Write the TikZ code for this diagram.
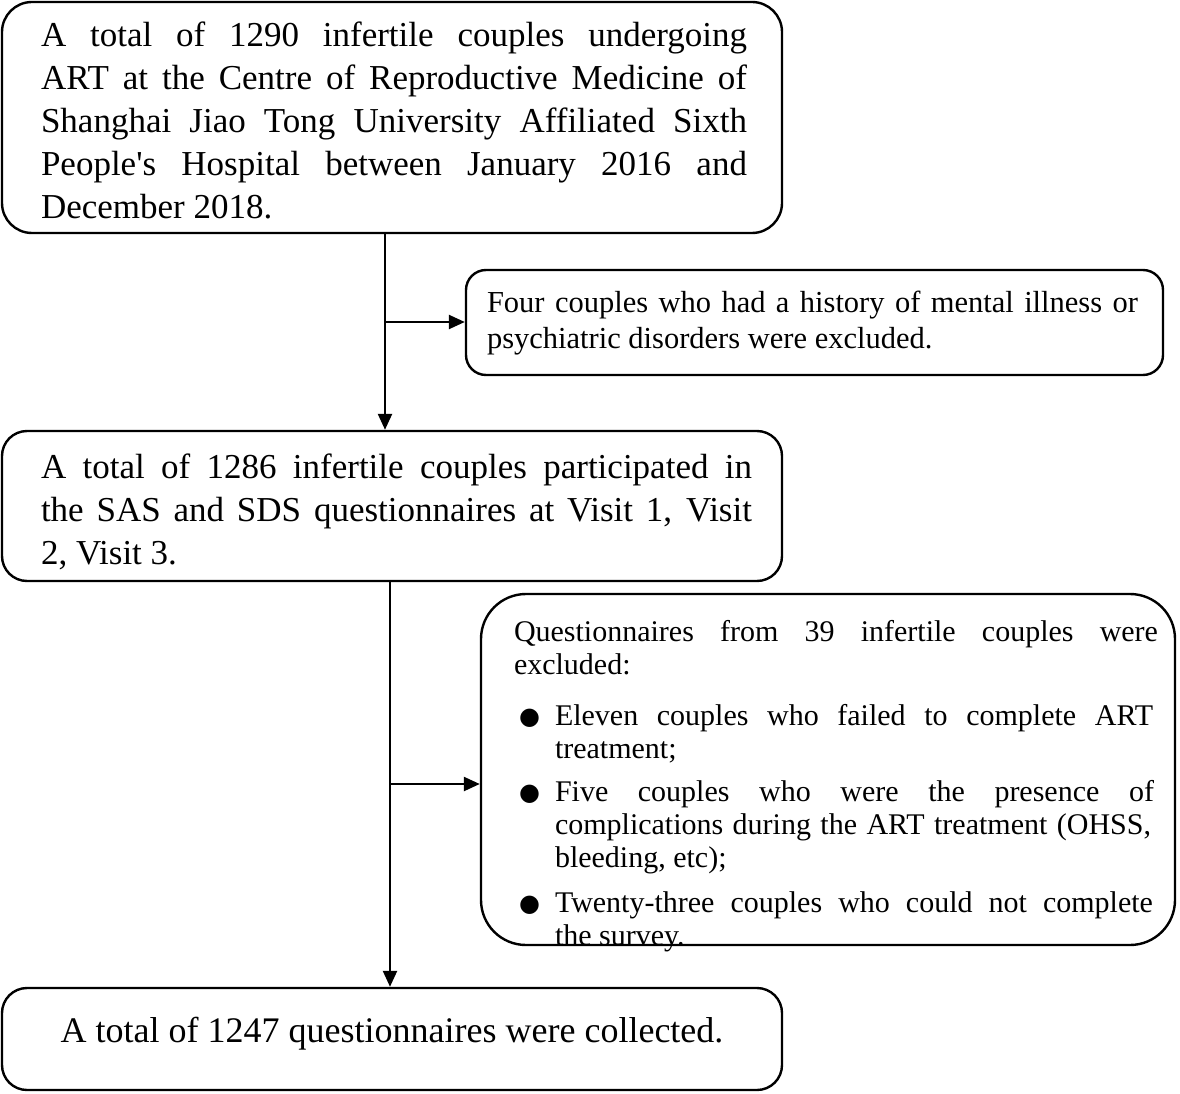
\documentclass[tikz,border=0pt]{standalone}
\usepackage{fontspec}
\setmainfont{Liberation Serif}[Ligatures=TeXOff]
\newfontfamily\dvs{DejaVu Sans}
\usetikzlibrary{arrows.meta}
\setlength\parindent{0pt}
% stretched (justified) box of given width
\newcommand\strbox[2]{\makebox[#1][s]{\spaceskip=0.25em plus 1fil\relax #2}}
% justified line: offset, width, text
\newcommand\jl[3]{\hspace*{#1}\strbox{#2}{#3}\par}
% plain last line
\newcommand\pl[2]{\hspace*{#1}#2\par}
% bullet (box 4)
\newcommand\bul{\hspace*{38pt}\makebox[36pt][l]{\raisebox{1pt}{\dvs\fontsize{24}{24}\selectfont ●}}}
% content block, shifted down by #1, width #2
\newcommand\blk[3]{\raisebox{-#1}[\height][\depth]{\parbox[t]{#2}{#3}}}
\begin{document}
\begin{tikzpicture}[x=1pt,y=-1pt,
  box/.style={draw, line width=2.4pt, inner sep=0pt},
  big/.style={font=\fontsize{35}{43}\selectfont},
  conn/.style={line width=2.4pt, -{Triangle[length=16pt,width=14pt]}}]
\useasboundingbox (0,0) rectangle (1180,1094);

\node[box, big, rounded corners=30pt, minimum width=780pt, minimum height=231pt] (b1) at (392,117.5) {\blk{3pt}{780pt}{%
\jl{39pt}{706pt}{A total of 1290 infertile couples undergoing}
\jl{39pt}{706pt}{ART at the Centre of Reproductive Medicine of}
\jl{39pt}{706pt}{Shanghai Jiao Tong University Affiliated Sixth}
\jl{39pt}{706pt}{People's Hospital between January 2016 and}
\pl{39pt}{December 2018.}}};

\node[box, font=\fontsize{30.5}{36}\selectfont, rounded corners=20pt, minimum width=697pt, minimum height=105pt] (b2) at (814.5,322.5) {\blk{1pt}{697pt}{%
\jl{21pt}{651pt}{Four couples who had a history of mental illness or}
\pl{21pt}{psychiatric disorders were excluded.}}};

\node[box, big, rounded corners=25pt, minimum width=780pt, minimum height=150pt] (b3) at (392,506) {\blk{6pt}{780pt}{%
\jl{39pt}{711pt}{A total of 1286 infertile couples participated in}
\jl{39pt}{711pt}{the SAS and SDS questionnaires at Visit 1, Visit}
\pl{39pt}{2, Visit 3.}}};

\node[box, font=\fontsize{30}{33}\selectfont, rounded corners=45pt, minimum width=694pt, minimum height=351pt] (b4) at (828,769.5) {\blk{17pt}{694pt}{%
\jl{33pt}{644pt}{Questionnaires from 39 infertile couples were}
\pl{33pt}{excluded:}
\vspace{18pt}
\bul\strbox{598pt}{Eleven couples who failed to complete ART}\par
\pl{74pt}{treatment;}
\vspace{10pt}
\bul\strbox{599pt}{Five couples who were the presence of}\par
\jl{74pt}{596pt}{complications during the ART treatment (OHSS,}
\pl{74pt}{bleeding, etc);}
\vspace{12pt}
\bul\strbox{598pt}{Twenty-three couples who could not complete}\par
\pl{74pt}{the survey.}}};

\node[box, font=\fontsize{36}{43}\selectfont, rounded corners=25pt, minimum width=780pt, minimum height=102pt] (b5) at (392,1039)
  {\raisebox{5pt}[\height][\depth]{A total of 1247 questionnaires were collected.}};

\coordinate (j1) at (385,322);
\coordinate (j2) at (390,784);
\draw[conn] (b1.south -| j1) -- (b3.north -| j1);
\draw[conn] (j1) -- (b2.west |- j1);
\draw[conn] (b3.south -| j2) -- (b5.north -| j2);
\draw[conn] (j2) -- (b4.west |- j2);
\end{tikzpicture}
\end{document}
